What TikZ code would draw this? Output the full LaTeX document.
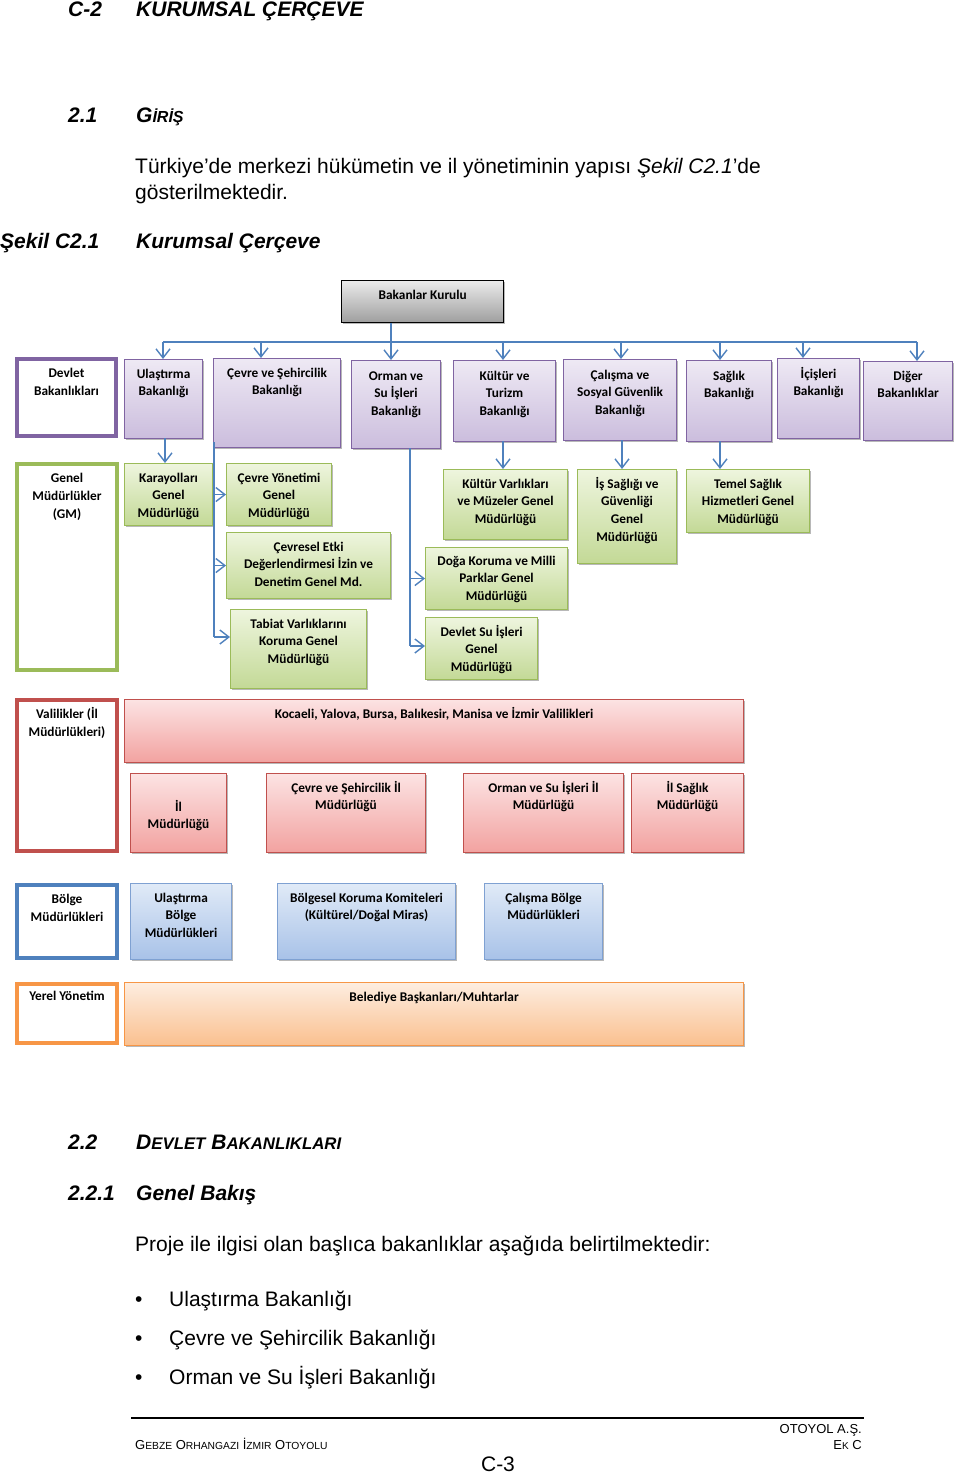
\documentclass[tikz,border=0pt]{standalone}
\usepackage{fontspec}
\setmainfont{Liberation Sans}
\newfontfamily\calib{Carlito}
\usetikzlibrary{arrows.meta,shadows}

\definecolor{purB}{HTML}{8064A2}
\definecolor{purT}{HTML}{EEE9F4}
\definecolor{purD}{HTML}{CBBDDD}
\definecolor{grnB}{HTML}{9BBB59}
\definecolor{grnT}{HTML}{EEF5DE}
\definecolor{grnD}{HTML}{C3D996}
\definecolor{redB}{HTML}{C0504D}
\definecolor{redT}{HTML}{FCE3E3}
\definecolor{redD}{HTML}{F2A2A0}
\definecolor{bluB}{HTML}{4F81BD}
\definecolor{bluL}{HTML}{7FA1D2}
\definecolor{bluT}{HTML}{E0EAF7}
\definecolor{bluD}{HTML}{A8C2E8}
\definecolor{orgB}{HTML}{F79646}
\definecolor{orgT}{HTML}{FDEDE0}
\definecolor{orgD}{HTML}{FAC08F}
\definecolor{lnB}{HTML}{4F81BD}

% #1 first-baseline offset, #2 style, #3 name, #4 x1, #5 y1, #6 x2, #7 y2, #8 text
\newcommand\bx[8][18.5]{%
  \node[#2] (#3) at (#4,#5) {\parbox[c][\dimexpr#7pt-#5pt\relax][t]{\dimexpr#6pt-#4pt\relax}{\centering\rule{0pt}{#1pt}#8\par}};}
\newcommand\smc[2]{{\fontsize{#1}{#1}\selectfont #2}}

\tikzset{
  box/.style={anchor=north west, inner sep=0pt, text=black,
    font=\calib\bfseries\fontsize{13.3}{17.8}\selectfont},
  shad/.style={drop shadow={shadow xshift=1.5pt, shadow yshift=-1.5pt, opacity=.28, fill=black}},
  gbox/.style={box, shad, draw=black, line width=1.4pt, top color=white!92!black, bottom color=black!38},
  pbox/.style={box, shad, draw=purB, line width=1.1pt, top color=purT, bottom color=purD},
  gnbox/.style={box, shad, draw=grnB, line width=1.1pt, top color=grnT, bottom color=grnD},
  rbox/.style={box, shad, draw=redB, line width=1.1pt, top color=redT, bottom color=redD},
  bbox/.style={box, shad, draw=bluL, line width=1.1pt, top color=bluT, bottom color=bluD},
  obox/.style={box, shad, draw=orgB, line width=1.1pt, top color=orgT, bottom color=orgD},
  pcat/.style={box, draw=purB, line width=4pt, fill=white},
  gcat/.style={box, draw=grnB, line width=4pt, fill=white},
  rcat/.style={box, draw=redB, line width=4pt, fill=white},
  bcat/.style={box, draw=bluB, line width=4pt, fill=white},
  ocat/.style={box, draw=orgB, line width=4pt, fill=white},
  ln/.style={draw=lnB, line width=1.4pt},
  arr/.style={draw=lnB, line width=1.4pt, -{Straight Barb[length=9pt,width=14pt]}},
  body/.style={anchor=base west, inner sep=0pt, font=\fontsize{21}{26}\selectfont},
  head/.style={anchor=base west, inner sep=0pt, font=\bfseries\itshape\fontsize{21}{26}\selectfont},
  foot/.style={inner sep=0pt, font=\fontsize{13}{15}\selectfont},
}

\begin{document}
\begin{tikzpicture}[x=1pt,y=-1pt]
\fill[white] (0,0) rectangle (960,1474);
\useasboundingbox (0,0) rectangle (960,1474);

% ---------- page text ----------
\node[head] (c2) at (68,16.5) {C-2};
\node[head] (c2t) at (136,16.5) {KURUMSAL ÇERÇEVE};
\node[head] (s21) at (68,123) {2.1};
\node[head] (s21t) at (136,123) {G\smc{16}{İRİŞ}};
\node[body] (p1) at (135,174) {Türkiye’de merkezi hükümetin ve il yönetiminin yapısı \textit{Şekil C2.1}’de};
\node[body] (p2) at (135,200) {gösterilmektedir.};
\node[head] (fig) at (0,248) {Şekil C2.1};
\node[head] (figt) at (136,248) {Kurumsal Çerçeve};

% ---------- diagram ----------
\bx{gbox}{bk}{341}{280}{503}{322}{Bakanlar Kurulu}

\bx{pcat}{dv}{15}{357}{114}{434}{Devlet\\Bakanlıkları}
\bx{pbox}{ul}{124}{359}{202}{438}{Ulaştırma\\Bakanlığı}
\bx{pbox}{cs}{213}{358}{340}{447}{Çevre ve Şehircilik\\Bakanlığı}
\bx[19.5]{pbox}{om}{351}{360}{440}{448}{Orman ve\\Su İşleri\\Bakanlığı}
\bx[19.5]{pbox}{kt}{453}{360}{555}{441}{Kültür ve\\Turizm\\Bakanlığı}
\bx[19.5]{pbox}{cl}{563}{359}{676}{440}{Çalışma ve\\Sosyal Güvenlik\\Bakanlığı}
\bx[19.5]{pbox}{sg}{686}{360}{771}{441}{Sağlık\\Bakanlığı}
\bx[19.5]{pbox}{ic}{777}{358}{859}{438}{İçişleri\\Bakanlığı}
\bx{pbox}{dg}{863}{361}{952}{440}{Diğer\\Bakanlıklar}

\bx{gcat}{gm}{15}{462}{115}{668}{Genel\\Müdürlükler\\(GM)}
\bx{gnbox}{kg}{124}{463}{212}{525}{Karayolları\\Genel\\Müdürlüğü}
\bx{gnbox}{cy}{226}{463}{331}{525}{Çevre Yönetimi\\Genel\\Müdürlüğü}
\bx{gnbox}{ce}{226}{532}{390}{598}{Çevresel Etki\\Değerlendirmesi İzin ve\\Denetim Genel Md.}
\bx{gnbox}{tv}{230}{609}{366}{688}{Tabiat Varlıklarını\\Koruma Genel\\Müdürlüğü}
\bx{gnbox}{kv}{443}{469}{567}{539}{Kültür Varlıkları\\ve Müzeler Genel\\Müdürlüğü}
\bx[17.5]{gnbox}{dk}{425}{547}{567}{609}{Doğa Koruma ve Milli\\Parklar Genel\\Müdürlüğü}
\bx{gnbox}{ds}{425}{617}{537}{679}{Devlet Su İşleri\\Genel\\Müdürlüğü}
\bx{gnbox}{is}{577}{469}{676}{563}{İş Sağlığı ve\\Güvenliği\\Genel\\Müdürlüğü}
\bx{gnbox}{ts}{686}{469}{809}{532}{Temel Sağlık\\Hizmetleri Genel\\Müdürlüğü}

\bx{rcat}{vl}{15}{698}{115}{849}{Valilikler (İl\\Müdürlükleri)}
\bx{rbox}{kc}{124}{699}{743}{762}{Kocaeli, Yalova, Bursa, Balıkesir, Manisa ve İzmir Valilikleri}
\bx[37.5]{rbox}{im}{130}{773}{226}{852}{İl\\Müdürlüğü}
\bx{rbox}{ci}{266}{773}{425}{852}{Çevre ve Şehircilik İl\\Müdürlüğü}
\bx{rbox}{oi}{463}{773}{623}{852}{Orman ve Su İşleri İl\\Müdürlüğü}
\bx{rbox}{si}{631}{773}{743}{852}{İl Sağlık\\Müdürlüğü}

\bx{bcat}{bm}{15}{883}{115}{956}{Bölge\\Müdürlükleri}
\bx{bbox}{ub}{130}{883}{231}{959}{Ulaştırma\\Bölge\\Müdürlükleri}
\bx{bbox}{bko}{277}{883}{455}{959}{Bölgesel Koruma Komiteleri\\(Kültürel/Doğal Miras)}
\bx{bbox}{cb}{484}{883}{602}{959}{Çalışma Bölge\\Müdürlükleri}

\bx[16.5]{ocat}{yy}{15}{982}{115}{1041}{Yerel Yönetim}
\bx{obox}{bl}{124}{982}{743}{1045}{Belediye Başkanları/Muhtarlar}

% ---------- connectors ----------
\coordinate (hub) at (391,342);
\coordinate (hL) at (163,342);
\coordinate (hR) at (917,342);
\draw[ln] (hL) -- (hR);
\draw[arr] (bk.south -| hub) -- (hub |- om.north);
\coordinate (a1) at (163,342);
\coordinate (a2) at (261,342);
\coordinate (a4) at (503,342);
\coordinate (a5) at (621,342);
\coordinate (a6) at (720,342);
\coordinate (a7) at (803,342);
\coordinate (a8) at (917,342);
\draw[arr] (a1) -- (a1 |- ul.north);
\draw[arr] (a2) -- (a2 |- cs.north);
\draw[arr] (a4) -- (a4 |- kt.north);
\draw[arr] (a5) -- (a5 |- cl.north);
\draw[arr] (a6) -- (a6 |- sg.north);
\draw[arr] (a7) -- (a7 |- ic.north);
\draw[arr] (a8) -- (a8 |- dg.north);

\coordinate (ulb) at (165,438);
\draw[arr] (ulb) -- (ulb |- kg.north);

\coordinate (cvt) at (214,442);
\coordinate (cvb) at (214,637);
\draw[ln] (cvt) -- (cvb);
\draw[arr] (cvt |- cy.west) -- (cy.west);
\draw[arr] (cvt |- ce.west) -- (ce.west);
\draw[arr] (cvb) -- (cvb -| tv.west);

\coordinate (omt) at (410,448);
\coordinate (omb) at (410,646);
\draw[ln] (omt) -- (omb);
\draw[arr] (omt |- dk.west) -- (dk.west);
\draw[arr] (omb) -- (omb -| ds.west);

\coordinate (ktb) at (503,441);
\draw[arr] (ktb) -- (ktb |- kv.north);
\coordinate (clb) at (622,440);
\draw[arr] (clb) -- (clb |- is.north);
\coordinate (sgb) at (720,441);
\draw[arr] (sgb) -- (sgb |- ts.north);

% ---------- lower page text ----------
\node[head] (s22) at (68,1149) {2.2};
\node[head] (s22t) at (136,1149) {D\smc{16.8}{EVLET} B\smc{16.8}{AKANLIKLARI}};
\node[head] (s221) at (68,1200) {2.2.1};
\node[head] (s221t) at (136,1200) {Genel Bakış};
\node[body] (p3) at (135,1251) {Proje ile ilgisi olan başlıca bakanlıklar aşağıda belirtilmektedir:};
\node[body] (b1) at (135,1306) {•};
\node[body] (i1) at (169,1306) {Ulaştırma Bakanlığı};
\node[body] (b2) at (135,1345) {•};
\node[body] (i2) at (169,1345) {Çevre ve Şehircilik Bakanlığı};
\node[body] (b3) at (135,1384) {•};
\node[body] (i3) at (169,1384) {Orman ve Su İşleri Bakanlığı};

\coordinate (rl) at (131,1418);
\coordinate (rr) at (864,1418);
\draw[line width=1.3pt] (rl) -- (rr);
\node[foot, anchor=base east] (f1) at (862,1433) {OTOYOL A.Ş.};
\node[foot, anchor=base east] (f2) at (862,1449) {E\smc{10}{K} C};
\node[foot, anchor=base west] (f3) at (135,1449) {G\smc{10.3}{EBZE} O\smc{10.3}{RHANGAZI} İ\smc{10.3}{ZMIR} O\smc{10.3}{TOYOLU}};
\node[body, anchor=base] (pg) at (498,1471) {C-3};
\end{tikzpicture}
\end{document}
